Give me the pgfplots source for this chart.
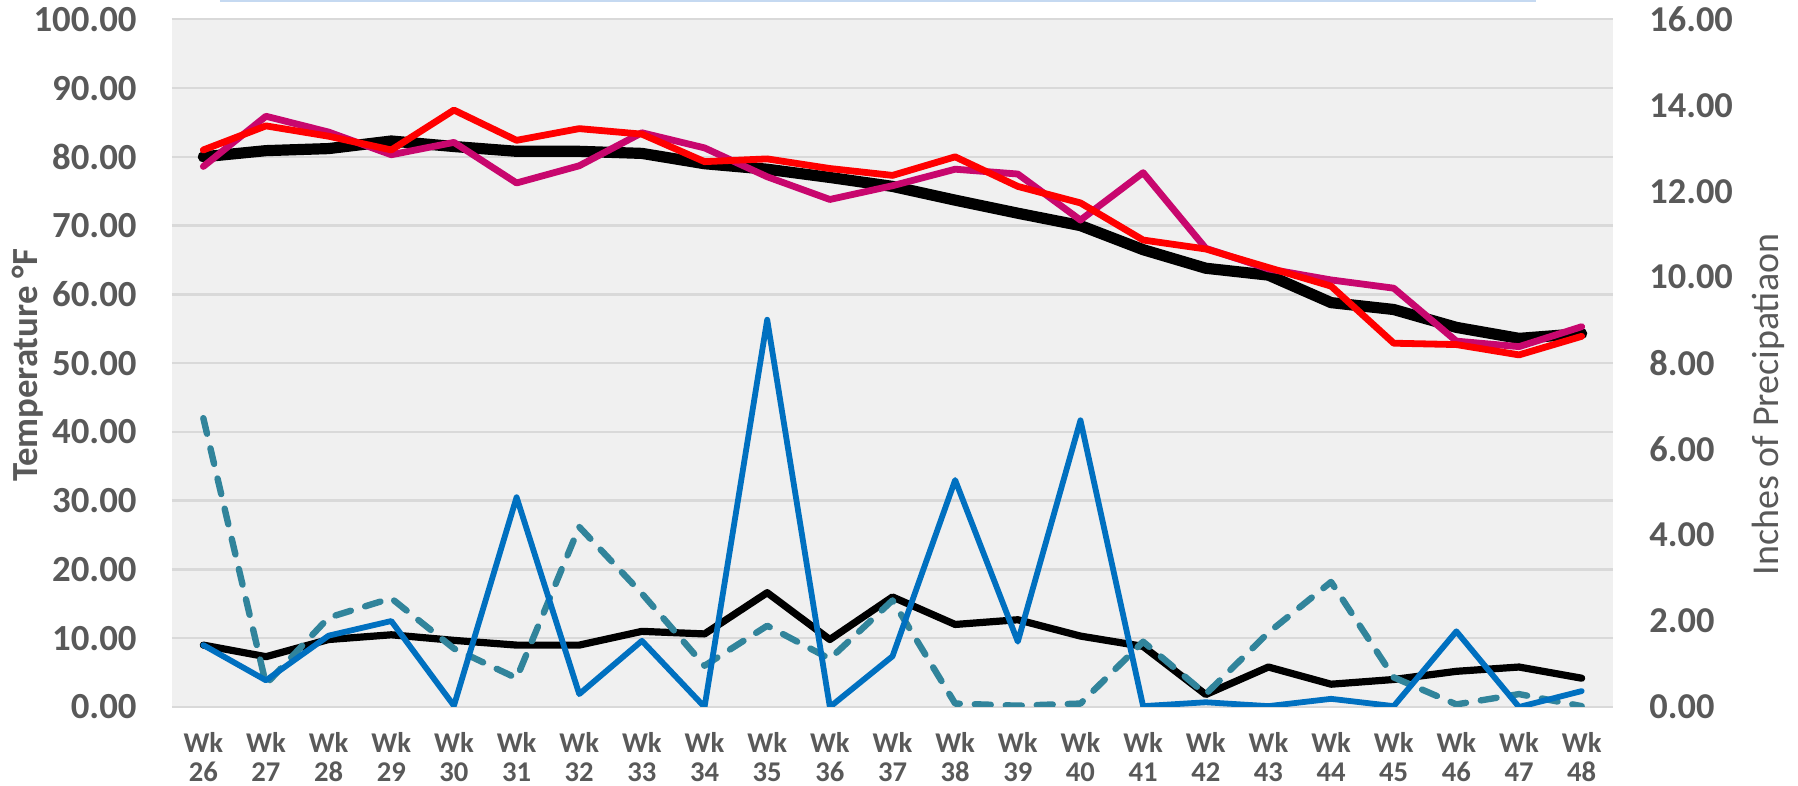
\documentclass[border=0pt]{standalone}
\usepackage{fontspec}
\setmainfont{Carlito}
\usepackage{pgfplots}
\usepackage{pgfplotstable}
\pgfplotsset{compat=1.18}
\definecolor{txt}{HTML}{595959}
\definecolor{bgc}{HTML}{F0F0F0}
\definecolor{gridc}{HTML}{D9D9D9}
\definecolor{mag}{HTML}{C8076E}
\definecolor{myblue}{HTML}{0070C0}
\definecolor{teal2}{HTML}{31849B}
\definecolor{topblue}{HTML}{C5D9F1}

\pgfplotstableread{
idx avg red mag
0 80.0 81.0 78.6
1 80.9 84.5 85.9
2 81.2 83.0 83.6
3 82.3 81.0 80.3
4 81.5 86.8 82.1
5 80.8 82.4 76.2
6 80.8 84.1 78.7
7 80.5 83.3 83.5
8 79.0 79.3 81.3
9 78.2 79.7 77.1
10 77.0 78.3 73.8
11 75.7 77.3 75.8
12 73.7 80.0 78.2
13 71.8 75.7 77.5
14 70.0 73.3 70.8
15 66.5 67.9 77.7
16 63.8 66.6 66.7
17 62.8 63.9 63.7
18 58.8 61.2 62.1
19 57.8 52.9 60.9
20 55.2 52.7 53.2
21 53.6 51.2 52.4
22 54.3 53.9 55.3
}\temps

\pgfplotstableread{
idx blk blue teal
0 1.44 1.44 6.72
1 1.17 0.62 0.53
2 1.57 1.66 2.08
3 1.68 2.00 2.53
4 1.55 0.03 1.36
5 1.44 4.88 0.67
6 1.44 0.30 4.19
7 1.76 1.54 2.64
8 1.70 0.00 0.96
9 2.66 9.01 1.89
10 1.57 0.00 1.12
11 2.56 1.18 2.48
12 1.92 5.28 0.08
13 2.03 1.52 0.03
14 1.65 6.67 0.08
15 1.41 0.02 1.52
16 0.29 0.11 0.30
17 0.93 0.02 1.73
18 0.53 0.19 2.91
19 0.64 0.02 0.69
20 0.83 1.76 0.06
21 0.93 0.00 0.30
22 0.67 0.37 0.02
}\precip

\pgfplotsset{
  common/.style={
    scale only axis, width=720.5pt, height=343.85pt,
    xmin=-0.5, xmax=22.5,
    major tick length=0pt,
    /pgf/number format/assume math mode=true,
    /pgf/number format/.cd, fixed, fixed zerofill, precision=2, /pgfplots/.cd,
    every axis plot/.append style={line join=round, line cap=round},
  }
}

\begin{document}
\begin{tikzpicture}
\begin{axis}[common,
  clip=false,
  ymin=0, ymax=100,
  ytick={0,10,...,100},
  axis background/.style={fill=bgc},
  axis line style={draw=none},
  ymajorgrids, major grid style={gridc, line width=1.2pt},
  xtick={0,...,22},
  xticklabels={Wk\\26,Wk\\27,Wk\\28,Wk\\29,Wk\\30,Wk\\31,Wk\\32,Wk\\33,Wk\\34,Wk\\35,Wk\\36,Wk\\37,Wk\\38,Wk\\39,Wk\\40,Wk\\41,Wk\\42,Wk\\43,Wk\\44,Wk\\45,Wk\\46,Wk\\47,Wk\\48},
  xticklabel style={align=center, anchor=north, inner sep=0pt, yshift=-12.3pt, text=txt,
     font=\bfseries\fontsize{14.3}{14.6}\selectfont},
  yticklabel style={anchor=east, inner sep=0pt, xshift=-17.5pt, text=txt,
     font=\bfseries\fontsize{18.4}{20}\selectfont},
  ylabel={Temperature °F},
  every axis y label/.style={at={(axis description cs:-0.1003,0.497)}, rotate=90, anchor=center,
     text=txt, font=\bfseries\fontsize{18.4}{20}\selectfont},
]
\addplot[black, line width=5.6pt] table[x=idx, y=avg] {\temps};
\addplot[mag, line width=3.4pt] table[x=idx, y=mag] {\temps};
\addplot[red, line width=3.4pt] table[x=idx, y=red] {\temps};
\draw[topblue, line width=1pt] (rel axis cs:0.0333,1.0266) -- (rel axis cs:0.9466,1.0266);
\end{axis}
\begin{axis}[common,
  ymin=0, ymax=16,
  ytick={0,2,...,16},
  axis y line*=right, axis x line=none,
  axis line style={draw=none},
  yticklabel style={anchor=west, inner sep=0pt, xshift=18pt, text=txt,
     font=\bfseries\fontsize{18.2}{20}\selectfont},
  ylabel={Inches of Precipatiaon},
  every axis y label/.style={at={(axis description cs:1.1076,0.44)}, rotate=90, anchor=center,
     text=txt, font=\fontsize{19}{21}\selectfont},
]
\addplot[black, line width=3.6pt] table[x=idx, y=blk] {\precip};
\addplot[teal2, line width=3.2pt, dash pattern=on 8pt off 7.5pt] table[x=idx, y=teal] {\precip};
\addplot[myblue, line width=2.9pt] table[x=idx, y=blue] {\precip};
\end{axis}
\pgfresetboundingbox
\path[use as bounding box] (-86pt,-39.5pt) rectangle (813pt,353.5pt);
\end{tikzpicture}
\end{document}
